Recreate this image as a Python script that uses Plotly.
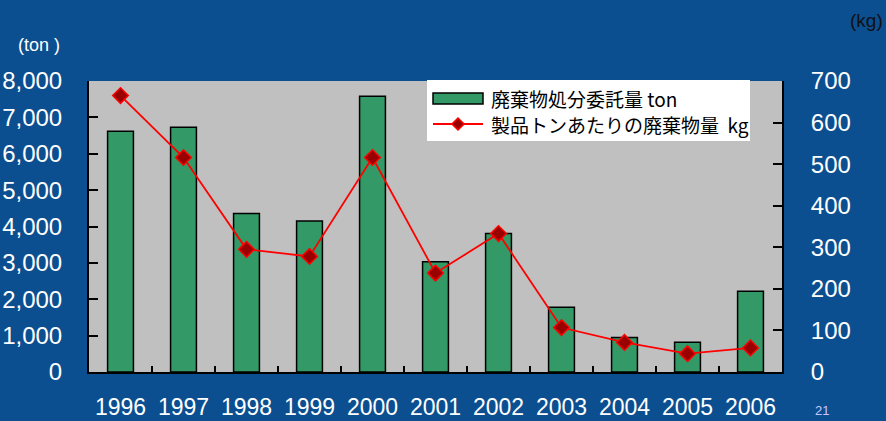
import plotly.graph_objects as go

years = ["1996", "1997", "1998", "1999", "2000", "2001", "2002", "2003", "2004", "2005", "2006"]
waste_ton = [6620, 6730, 4360, 4150, 7580, 3030, 3810, 1780, 950, 820, 2220]
waste_per_ton_kg = [665, 516, 295, 278, 516, 238, 333, 107, 71, 44, 58]
left_ticks = [0, 1000, 2000, 3000, 4000, 5000, 6000, 7000, 8000]
right_ticks = [0, 100, 200, 300, 400, 500, 600, 700]
series_names = ["廃棄物処分委託量 ton", "製品トンあたりの廃棄物量  kg"]

FONT = "Liberation Sans, Arial, Noto Sans CJK JP, sans-serif"
JP = "Noto Sans CJK JP, Liberation Sans, sans-serif"

W, H = 886, 421
L, R, T, B = 89, 104, 81, 49
PW, PH = W - L - R, H - T - B


def px(x):
    return (x - L) / PW


def py(y):
    return (H - B - y) / PH


BAR_COLOR = "#339966"
LINE_COLOR = "#ff0000"
MARKER_COLOR = "#990000"

fig = go.Figure()
fig.add_trace(go.Bar(
    x=years, y=waste_ton, name=series_names[0],
    marker=dict(color=BAR_COLOR, line=dict(color="#000000", width=1.5)),
    yaxis="y", showlegend=False,
))
fig.add_trace(go.Scatter(
    x=years, y=waste_per_ton_kg, name=series_names[1],
    mode="lines+markers",
    line=dict(color=LINE_COLOR, width=1.8),
    marker=dict(symbol="diamond", size=12, color=MARKER_COLOR, line=dict(color=LINE_COLOR, width=1.5)),
    yaxis="y2", showlegend=False,
))

shapes = [
    dict(type="rect", xref="paper", yref="paper", x0=px(427), x1=px(750), y0=py(141), y1=py(80),
         fillcolor="#ffffff", line=dict(width=0), layer="above"),
    dict(type="rect", xref="paper", yref="paper", x0=px(433), x1=px(483), y0=py(104), y1=py(93),
         fillcolor=BAR_COLOR, line=dict(color="#000000", width=1.5), layer="above"),
    dict(type="line", xref="paper", yref="paper", x0=px(433), x1=px(483), y0=py(124), y1=py(124),
         line=dict(color=LINE_COLOR, width=1.8), layer="above"),
    dict(type="path", xref="paper", yref="paper",
         path=f"M {px(452)},{py(124)} L {px(458)},{py(118)} L {px(464)},{py(124)} L {px(458)},{py(130)} Z",
         fillcolor=MARKER_COLOR, line=dict(color=LINE_COLOR, width=1.5), layer="above"),
]

annotations = [
    dict(text=series_names[0], xref="paper", yref="paper", x=px(489), y=py(98.5), xanchor="left", yanchor="middle",
         showarrow=False, font=dict(family=JP, size=19, color="#000000")),
    dict(text=series_names[1], xref="paper", yref="paper", x=px(489), y=py(124.5), xanchor="left", yanchor="middle",
         showarrow=False, font=dict(family=JP, size=19, color="#000000")),
    dict(text="(ton )", xref="paper", yref="paper", x=px(16), y=py(45), xanchor="left", yanchor="middle",
         showarrow=False, font=dict(family=FONT, size=18, color="#ffffff")),
    dict(text="(kg)", xref="paper", yref="paper", x=px(885), y=py(20), xanchor="right", yanchor="middle",
         showarrow=False, font=dict(family=FONT, size=19, color="#111111")),
    dict(text="21", xref="paper", yref="paper", x=px(822), y=py(410), xanchor="center", yanchor="middle",
         showarrow=False, font=dict(family=FONT, size=13, color="#c8c8ff")),
]

fig.update_layout(
    width=W, height=H,
    margin=dict(l=L, r=R, t=T, b=B, autoexpand=False),
    paper_bgcolor="#0b4f90",
    plot_bgcolor="#c0c0c0",
    bargap=0.59,
    showlegend=False,
    xaxis=dict(
        type="category", showgrid=False, showline=True, linecolor="#000000", linewidth=2,
        ticks="inside", ticklen=6, tickcolor="#000000", tickwidth=1.5, tickson="boundaries",
        tickfont=dict(family=FONT, size=23, color="#ffffff"),
        ticklabelstandoff=13, automargin=False,
        range=[-0.5, 10.5],
    ),
    yaxis=dict(
        range=[0, 8000], tickvals=left_ticks, tickformat=",d",
        showgrid=False, showline=True, linecolor="#000000", linewidth=2,
        ticks="inside", ticklen=9, tickcolor="#000000", tickwidth=1.5,
        tickfont=dict(family=FONT, size=24, color="#ffffff"),
        ticklabelstandoff=20, zeroline=False, automargin=False,
    ),
    yaxis2=dict(
        range=[0, 700], tickvals=right_ticks, overlaying="y", side="right",
        showgrid=False, showline=True, linecolor="#000000", linewidth=2,
        ticks="inside", ticklen=9, tickcolor="#000000", tickwidth=1.5,
        tickfont=dict(family=FONT, size=24, color="#ffffff"),
        ticklabelstandoff=22, zeroline=False, automargin=False,
    ),
    shapes=shapes,
    annotations=annotations,
)

fig.write_html("out.html", config={"displayModeBar": False},
               post_script="document.body.style.margin='0';document.body.style.overflow='hidden';")
